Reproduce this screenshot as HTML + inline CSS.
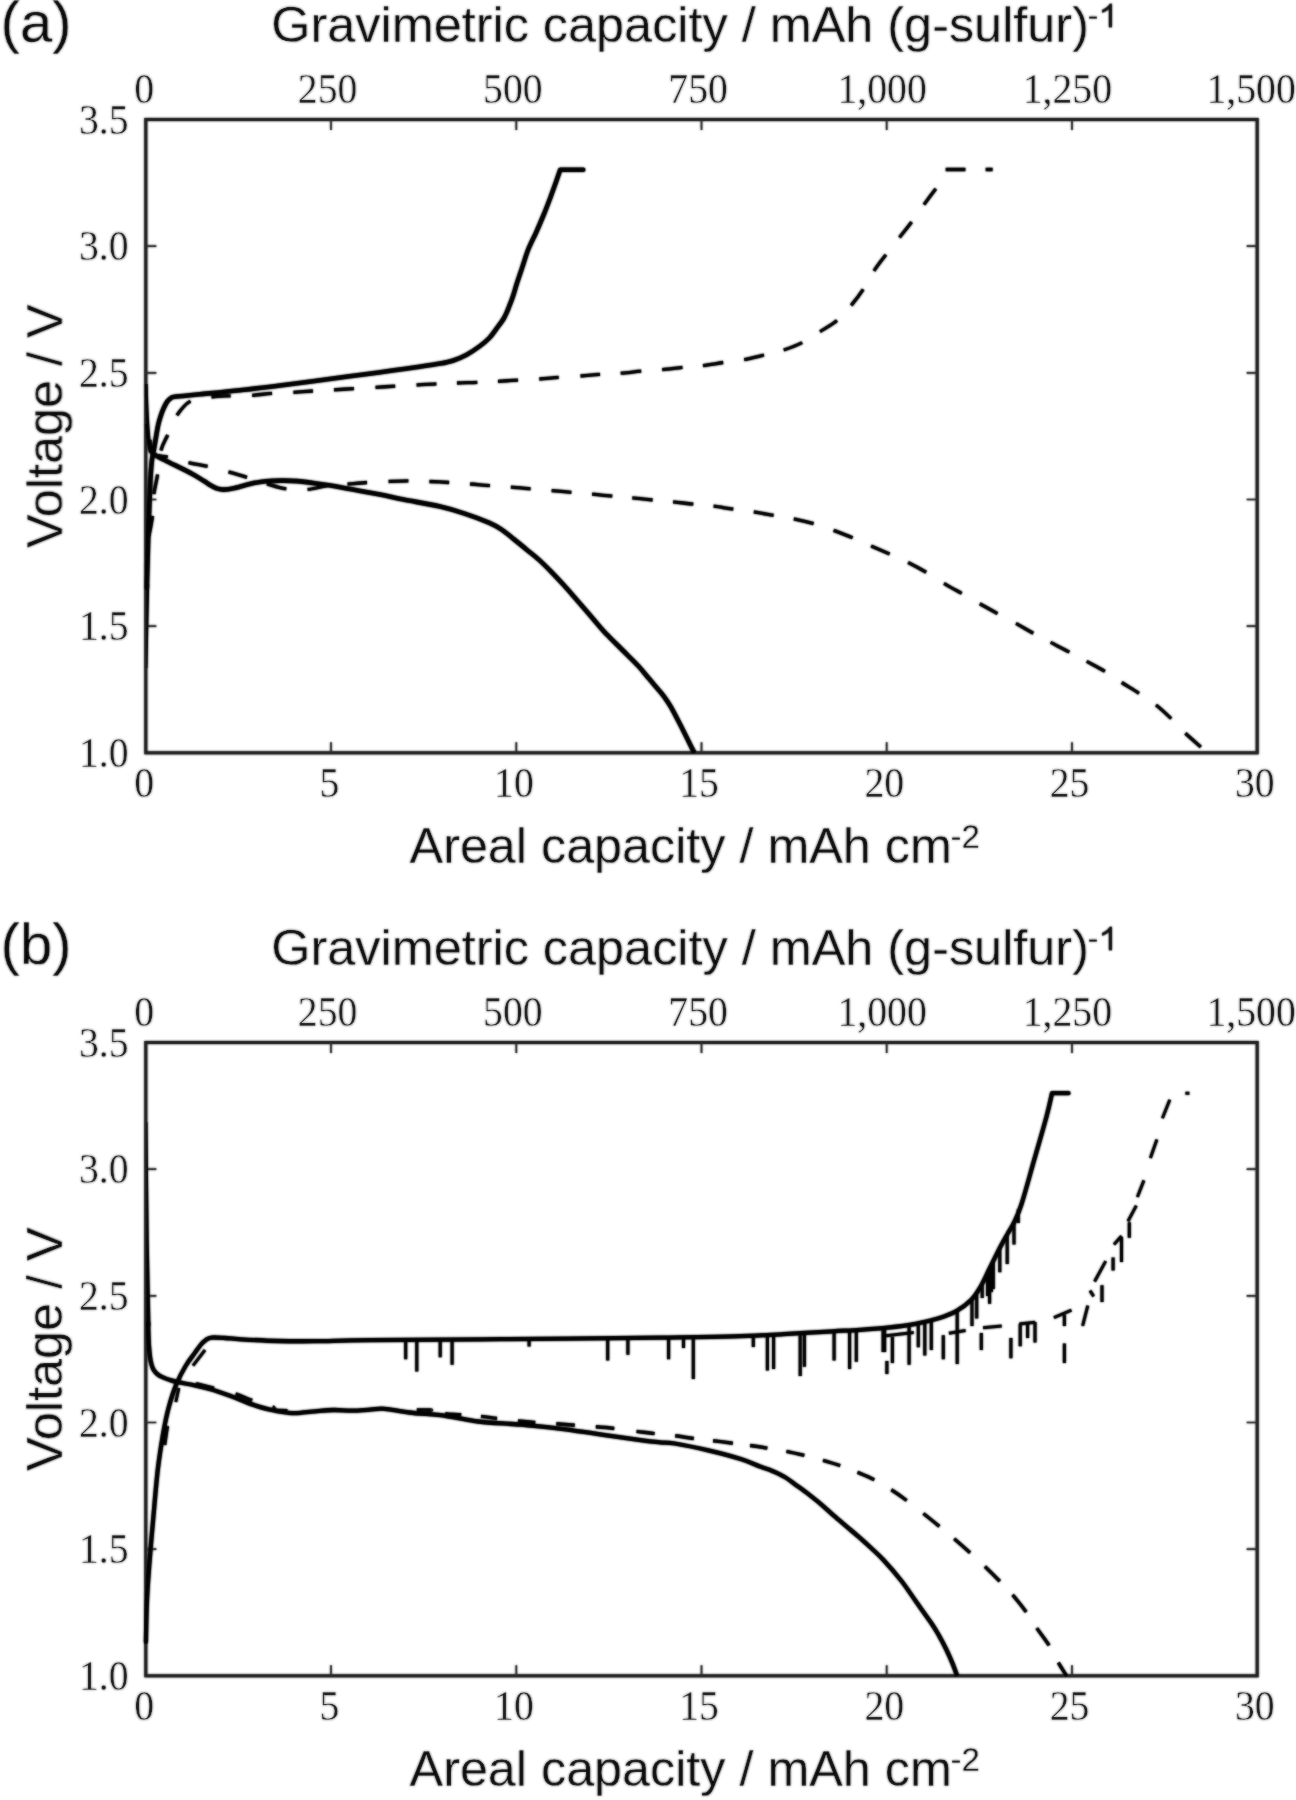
<!DOCTYPE html>
<html><head><meta charset="utf-8"><title>Voltage vs capacity</title>
<style>html,body{margin:0;padding:0;background:#fff}svg{display:block}</style>
</head><body>
<svg width="1296" height="1800" viewBox="0 0 1296 1800">
<rect width="1296" height="1800" fill="#fff"/>
<defs><filter id="b" x="0" y="0" width="1296" height="1800" filterUnits="userSpaceOnUse"><feGaussianBlur stdDeviation="0.85"/></filter>
<g id="art">
<rect x="145.8" y="119.5" width="1111.4" height="633.3" fill="none" stroke="#1e1e1e" stroke-width="3.05"/>
<path d="M331 119.5v10.5M331 752.8v-10.5M516.3 119.5v10.5M516.3 752.8v-10.5M701.5 119.5v10.5M701.5 752.8v-10.5M886.7 119.5v10.5M886.7 752.8v-10.5M1072 119.5v10.5M1072 752.8v-10.5M145.8 246.2h10.5M1257.2 246.2h-10.5M145.8 372.8h10.5M1257.2 372.8h-10.5M145.8 499.5h10.5M1257.2 499.5h-10.5M145.8 626.1h10.5M1257.2 626.1h-10.5" fill="none" stroke="#2a2a2a" stroke-width="1.7"/>
<g font-family='"Liberation Serif", serif' font-size="42.5" fill="#0a0a0a" stroke="#fff" stroke-width="0.4" text-anchor="middle"><text transform="translate(144.2 103.3) scale(0.935 1)">0</text><text transform="translate(144.2 797.4) scale(0.935 1)">0</text><text transform="translate(327.6 103.3) scale(0.935 1)">250</text><text transform="translate(329.4 797.4) scale(0.935 1)">5</text><text transform="translate(512.9 103.3) scale(0.935 1)">500</text><text transform="translate(513.9 797.4) scale(0.935 1)">10</text><text transform="translate(698.1 103.3) scale(0.935 1)">750</text><text transform="translate(699.1 797.4) scale(0.935 1)">15</text><text transform="translate(882.1 103.3) scale(0.935 1)">1,000</text><text transform="translate(884.3 797.4) scale(0.935 1)">20</text><text transform="translate(1067.4 103.3) scale(0.935 1)">1,250</text><text transform="translate(1069.6 797.4) scale(0.935 1)">25</text><text transform="translate(1251.1 103.3) scale(0.935 1)">1,500</text><text transform="translate(1254.8 797.4) scale(0.935 1)">30</text></g>
<g font-family='"Liberation Serif", serif' font-size="42.5" fill="#0a0a0a" stroke="#fff" stroke-width="0.4" text-anchor="end"><text transform="translate(128.6 133.6) scale(0.935 1)">3.5</text><text transform="translate(128.6 260.3) scale(0.935 1)">3.0</text><text transform="translate(128.6 386.9) scale(0.935 1)">2.5</text><text transform="translate(128.6 513.6) scale(0.935 1)">2.0</text><text transform="translate(128.6 640.2) scale(0.935 1)">1.5</text><text transform="translate(128.6 766.9) scale(0.935 1)">1.0</text></g>
<text x="271.3" y="42" font-size="50.4" font-family='"Liberation Sans", sans-serif' fill="#050505" stroke="#fff" stroke-width="0.3">Gravimetric capacity / mAh (g-sulfur)</text>
<text x="1087.5" y="27.2" font-size="33" font-family='"Liberation Sans", sans-serif' fill="#050505" stroke="#fff" stroke-width="0.3">-</text>
<path transform="translate(0 0)" d="M1111.9 27.2H1108.9V9C1107.5 10.3 1105 11.8 1102.1 12.8V10C1105.5 8.6 1108.5 6.2 1109.9 3.7H1111.9Z" fill="#111"/>
<text x="409.6" y="862.8" font-size="50.3" font-family='"Liberation Sans", sans-serif' fill="#050505" stroke="#fff" stroke-width="0.3">Areal capacity / mAh cm</text>
<text x="950.6" y="848" font-size="33" font-family='"Liberation Sans", sans-serif' fill="#050505" stroke="#fff" stroke-width="0.3">-2</text>
<text transform="translate(62.2 548) rotate(-90)" font-size="50.4" font-family='"Liberation Sans", sans-serif' fill="#050505" stroke="#fff" stroke-width="0.3">Voltage / V</text>
<rect x="145.8" y="1042.5" width="1111.4" height="633.3" fill="none" stroke="#1e1e1e" stroke-width="3.05"/>
<path d="M331 1042.5v10.5M331 1675.8v-10.5M516.3 1042.5v10.5M516.3 1675.8v-10.5M701.5 1042.5v10.5M701.5 1675.8v-10.5M886.7 1042.5v10.5M886.7 1675.8v-10.5M1072 1042.5v10.5M1072 1675.8v-10.5M145.8 1169.2h10.5M1257.2 1169.2h-10.5M145.8 1295.8h10.5M1257.2 1295.8h-10.5M145.8 1422.5h10.5M1257.2 1422.5h-10.5M145.8 1549.1h10.5M1257.2 1549.1h-10.5" fill="none" stroke="#2a2a2a" stroke-width="1.7"/>
<g font-family='"Liberation Serif", serif' font-size="42.5" fill="#0a0a0a" stroke="#fff" stroke-width="0.4" text-anchor="middle"><text transform="translate(144.2 1026.3) scale(0.935 1)">0</text><text transform="translate(144.2 1720.4) scale(0.935 1)">0</text><text transform="translate(327.6 1026.3) scale(0.935 1)">250</text><text transform="translate(329.4 1720.4) scale(0.935 1)">5</text><text transform="translate(512.9 1026.3) scale(0.935 1)">500</text><text transform="translate(513.9 1720.4) scale(0.935 1)">10</text><text transform="translate(698.1 1026.3) scale(0.935 1)">750</text><text transform="translate(699.1 1720.4) scale(0.935 1)">15</text><text transform="translate(882.1 1026.3) scale(0.935 1)">1,000</text><text transform="translate(884.3 1720.4) scale(0.935 1)">20</text><text transform="translate(1067.4 1026.3) scale(0.935 1)">1,250</text><text transform="translate(1069.6 1720.4) scale(0.935 1)">25</text><text transform="translate(1251.1 1026.3) scale(0.935 1)">1,500</text><text transform="translate(1254.8 1720.4) scale(0.935 1)">30</text></g>
<g font-family='"Liberation Serif", serif' font-size="42.5" fill="#0a0a0a" stroke="#fff" stroke-width="0.4" text-anchor="end"><text transform="translate(128.6 1056.6) scale(0.935 1)">3.5</text><text transform="translate(128.6 1183.3) scale(0.935 1)">3.0</text><text transform="translate(128.6 1309.9) scale(0.935 1)">2.5</text><text transform="translate(128.6 1436.6) scale(0.935 1)">2.0</text><text transform="translate(128.6 1563.2) scale(0.935 1)">1.5</text><text transform="translate(128.6 1689.9) scale(0.935 1)">1.0</text></g>
<text x="271.3" y="965" font-size="50.4" font-family='"Liberation Sans", sans-serif' fill="#050505" stroke="#fff" stroke-width="0.3">Gravimetric capacity / mAh (g-sulfur)</text>
<text x="1087.5" y="950.2" font-size="33" font-family='"Liberation Sans", sans-serif' fill="#050505" stroke="#fff" stroke-width="0.3">-</text>
<path transform="translate(0 923)" d="M1111.9 27.2H1108.9V9C1107.5 10.3 1105 11.8 1102.1 12.8V10C1105.5 8.6 1108.5 6.2 1109.9 3.7H1111.9Z" fill="#111"/>
<text x="409.6" y="1785.8" font-size="50.3" font-family='"Liberation Sans", sans-serif' fill="#050505" stroke="#fff" stroke-width="0.3">Areal capacity / mAh cm</text>
<text x="950.6" y="1771" font-size="33" font-family='"Liberation Sans", sans-serif' fill="#050505" stroke="#fff" stroke-width="0.3">-2</text>
<text transform="translate(62.2 1471) rotate(-90)" font-size="50.4" font-family='"Liberation Sans", sans-serif' fill="#050505" stroke="#fff" stroke-width="0.3">Voltage / V</text>
<text x="0.6" y="41.6" font-family='"Liberation Sans", sans-serif' font-size="58" fill="#050505" stroke="#fff" stroke-width="0.3">(a)</text>
<text x="0.6" y="964.4" font-family='"Liberation Sans", sans-serif' font-size="58" fill="#050505" stroke="#fff" stroke-width="0.3">(b)</text>
<g fill="none" stroke="#000" stroke-linejoin="round">
<path d="M146.9 588C146.9 586.3 146.9 585.2 147.1 578C147.3 570.8 147.7 556.3 148 545C148.3 533.7 148.8 520.8 149.2 510C149.6 499.2 150 487.8 150.4 480C150.8 472.2 151.2 467.2 151.6 463C152 458.8 152.4 456.8 152.8 454.5C153.2 452.2 153.5 451.9 154 449C154.5 446.1 155.3 441.2 156 437C156.7 432.8 157.6 427.5 158.4 424C159.2 420.5 159.9 418.5 160.7 416C161.5 413.5 162.2 411.4 163.3 409C164.4 406.6 165.8 403.7 167 401.9C168.2 400.1 169.4 399.1 170.7 398.3C172 397.5 169.7 397.5 174.6 396.8C179.5 396.1 189.1 395.4 200 394.3C210.9 393.2 226.7 391.7 240 390.2C253.3 388.7 265.1 387.4 280 385.5C294.9 383.6 312.9 381.2 329.4 379C345.9 376.8 364.4 374.4 378.8 372.5C393.2 370.6 405.6 368.8 415.8 367.3C426 365.8 433.8 364.7 440 363.6C446.2 362.5 448.9 362 453.3 360.5C457.8 359 462.2 357.1 466.7 354.7C471.1 352.3 476.2 348.8 480 346C483.8 343.2 486.6 340.8 489.3 338C492 335.2 493.6 332.6 496 329.3C498.4 326 501.8 321.9 504 318C506.2 314.1 507.8 309.8 509.3 306C510.9 302.2 512 299.3 513.3 295.3C514.6 291.3 515.7 286.9 517.3 282C518.9 277.1 520.9 271.3 522.7 266C524.5 260.7 525.8 255.6 528 250C530.2 244.4 533.3 238.7 536 232.7C538.7 226.7 541.5 220 544 214C546.5 208 548.7 202 550.7 196.7C552.7 191.4 554.4 186.5 556 182C557.6 177.5 559.5 171.8 560.2 169.8L583.2 169.8" stroke-width="4.6" stroke-linecap="round"/>
<path d="M149.4 440C149.5 441 149.6 444.1 149.9 446C150.2 447.9 150.2 450 151.1 451.5C151.9 453 152.2 453.3 155 455C157.8 456.7 161.7 458.6 167.8 461.7C174 464.8 185.9 470.5 191.9 473.7C197.9 476.9 200.9 479.1 204 481C207.1 482.9 208.3 484 210.4 485.2C212.5 486.4 214.2 487.6 216.4 488.3C218.6 489 220.7 489.7 223.8 489.6C226.9 489.5 230 489 234.9 487.9C239.8 486.8 248.3 484.2 253.5 483.1C258.6 482 261.4 481.6 265.8 481.2C270.2 480.8 274.7 480.6 280 480.6C285.3 480.6 289.9 480.4 297.4 481.1C304.9 481.8 315.9 483.4 325.2 484.8C334.5 486.2 343.9 488 353 489.6C362.1 491.2 371.6 492.9 380 494.5C388.4 496.1 393.5 497.5 403.5 499.5C413.5 501.5 429.8 504.2 440 506.6C450.2 509 456.5 510.9 464.7 513.6C472.9 516.3 483.2 520.2 489.4 522.9C495.6 525.6 497.6 526.9 501.7 529.6C505.8 532.4 510 536.1 514.1 539.4C518.2 542.7 522.3 546 526.4 549.4C530.5 552.8 534.7 555.9 538.8 559.6C542.9 563.3 547 567.4 551.1 571.6C555.2 575.8 559.4 580.3 563.5 584.8C567.6 589.3 571.7 594.1 575.8 598.8C579.9 603.5 584.1 608.3 588.1 613C592.1 617.7 597 623.5 600 627C603 630.5 602.5 630 606.2 633.8C609.9 637.6 617 644.6 622.4 650C627.8 655.4 634.1 661.4 638.6 666.2C643.1 671.1 646.3 675.5 649.4 679.1C652.5 682.7 654.6 685.2 657 688C659.4 690.8 661.2 692.6 663.5 695.8C665.8 699 668 701.9 671 707.2C674 712.5 678.2 720.7 681.8 727.7C685.4 734.7 690.5 745.2 692.6 749.4C694.7 753.6 694.1 752.4 694.4 753" stroke-width="4.6"/>
<path d="M146.3 384C146.4 387.5 146.6 397.7 146.9 405C147.2 412.3 147.6 421 148.1 428C148.6 435 149.5 443.8 149.8 447" stroke-width="2.8"/>
<path d="M146.6 668L147.4 668L148.3 625L149.2 584L146.6 584Z" fill="#000" stroke="none"/>
<path d="M149 536C149.6 532.7 151.7 523 152.5 516M153.9 494.1C154.8 487.2 156.4 481.9 157.6 474.6M160.9 450.5C162.6 443.9 165 440.9 167.7 435M176.9 415.3C180.7 409.7 184.7 404.2 190.5 401.1M211.5 397C218.2 396.1 223.8 396.1 230.6 395.8M252.2 395.3C259.1 394.9 265.1 393.8 272 393.3M293.4 392.3C300.2 391.9 306.1 391.4 312.9 391M334 389.8C340.8 389.4 347 389 353.9 388.6M375.5 387.3C382.4 386.9 388.3 386.6 395.2 386.2M416.6 385C423.5 384.6 429.7 384.2 436.4 383.9M457 383C463.8 382.7 470.5 382.6 477.3 382.3M498 381.3C504.8 380.9 511.1 380.5 518 380.1M539.3 379C546.1 378.6 551.8 377.9 558.7 377.4M580.5 376C587.4 375.5 593.3 374.9 600 374.4M620.7 373.2C627.6 372.7 634.3 371.8 641.2 371.2M662.2 369.6C669.1 369 675.7 368 682.5 367.3M703 365.6C709.8 364.8 716.3 363.5 723.2 362.5M744.2 359.6C751 358.4 757.4 356.6 764 355M783.7 350C790.1 347.9 796.2 345.7 802.2 342.6M820 331.6C825.8 327.9 831.8 324.9 837 320.5M851.2 305.4C855.6 300.2 859.4 295.2 863.2 289.4M874 270.8C877.8 265 881.6 260.3 885.9 254.7M899.5 237.4C903.8 231.9 907.5 227.4 911.6 221.9M924 204.6C928 199.1 933.8 191.4 935.8 188.8M945.7 169.5H965.4M985.7 169.5H992.6" stroke-width="3.3"/>
<path d="M146.6 424C147.2 427.7 148 440.8 150 446M158.5 455.2C161.5 457 162.8 455.8 167.8 457M188.5 462.6C195.1 464.2 200.9 464.8 207.6 466.3M228.5 471.9C235.1 473.8 240.6 475.4 247 477.4M266.9 483.9C273.4 485.8 279.5 488 286.3 488.9M307.6 489.4C314.4 488.9 320.4 486.8 327 485.9M347.5 484.2C354.2 483.6 360.1 482.9 367 482.5M388.6 481.5C395.5 481.2 401.6 480.9 408.4 480.9M429.4 481.5C436.2 481.8 442.3 482.1 449.1 482.5M470.1 484C476.9 484.5 483.1 485.2 489.9 485.7M510.9 487.2C517.7 487.7 523.8 488.3 530.6 488.9M551.6 490.6C558.4 491.2 564.6 491.7 571.4 492.3M592.1 494.1C598.9 494.8 605.6 495.6 612.3 496.2M632.3 497.8C639 498.4 645.8 499.3 652.6 500M673.1 501.8C679.9 502.5 686.5 503.5 693.3 504.2M713.6 506.2C720.3 507 726.6 508.3 733.3 509.2M753.8 511.8C760.5 512.8 766.9 514.2 773.6 515.4M793.8 518.8C800.5 520.2 807 521.8 813.6 523.7M833.6 530.4C840.1 532.8 846.4 535.2 852.6 537.8M871.1 546C877.3 548.7 883.4 551.4 889.6 554.1M908.1 562.5C914.2 565.5 920.2 568.8 926.2 572.3M944 583.3C949.9 586.8 955.7 590 961.7 593.4M979.8 603.8C985.8 607.2 991.5 610.3 997.5 613.6M1016 623.4C1022 626.7 1027.5 630.1 1033.3 633.3M1050.6 642.4C1056.6 645.5 1063.4 648.9 1069.4 652.1M1086.7 661.4C1092.6 664.6 1099.1 667.8 1104.9 671.3M1121.7 682.5C1127.4 686.2 1133.3 689.5 1139 693.3M1156 705C1161.4 709.2 1166.3 713.9 1171.2 718.6M1185.4 733.3C1190.3 738 1198.2 744.6 1200.8 746.9" stroke-width="3.3"/>
</g>
<g fill="none" stroke="#000" stroke-linejoin="round">
<path d="M148.2 1322C148.2 1323.7 148.3 1328.2 148.4 1332C148.5 1335.8 148.7 1341 148.9 1345C149.2 1349 149.5 1352.8 149.9 1356C150.3 1359.2 150.8 1362.1 151.5 1364.5C152.2 1366.9 152.8 1368.6 153.8 1370.2C154.8 1371.8 156 1373 157.5 1374.2C159 1375.4 160.9 1376.4 163 1377.4C165.1 1378.4 167.5 1379.2 170 1380C172.5 1380.8 174 1381.3 178.1 1382.2C182.2 1383.1 188.9 1384.1 194.8 1385.4C200.7 1386.7 207.1 1388.2 213.3 1390C219.5 1391.8 225.7 1394.2 231.9 1396.5C238.1 1398.8 244.2 1401.8 250.4 1403.9C256.6 1406.1 262.7 1408 268.9 1409.4C275.1 1410.9 282.8 1412 287.4 1412.6C292 1413.2 292.1 1413.3 296.7 1413.1C301.3 1412.9 309 1411.8 315.2 1411.3C321.4 1410.8 327.5 1410.1 333.7 1410C339.9 1409.9 346.1 1410.8 352.2 1410.7C358.2 1410.6 364.6 1409.9 370 1409.6C375.4 1409.3 378.1 1408.3 384.7 1408.8C391.3 1409.3 399.1 1411.3 409.4 1412.5C419.7 1413.7 434.9 1414.5 446.4 1416C457.9 1417.5 466.1 1420 478.5 1421.5C490.9 1423 507.3 1423.5 520.5 1424.7C533.7 1425.9 543.1 1426.6 557.5 1428.4C571.9 1430.2 592.5 1433.2 606.9 1435.3C621.3 1437.3 635.1 1439.5 644 1440.7C652.9 1441.9 654.9 1441.8 660 1442.3C665.1 1442.8 666.6 1442.1 674.8 1443.5C683 1444.9 698.3 1448 709.4 1450.6C720.5 1453.2 733.1 1456.6 741.5 1459.3C749.9 1462 754.9 1464.6 760 1466.5C765.1 1468.4 768.2 1469.2 772.3 1470.9C776.4 1472.7 780.6 1474.5 784.7 1477C788.8 1479.5 792.9 1482.7 797 1485.7C801.1 1488.7 805.3 1491.7 809.4 1494.9C813.5 1498.1 817.6 1501.3 821.7 1504.8C825.8 1508.3 830 1512.3 834.1 1515.9C838.2 1519.5 842.3 1522.9 846.4 1526.4C850.5 1529.9 854.7 1533.3 858.8 1536.9C862.9 1540.5 867 1544.2 871.1 1548C875.2 1551.8 878.4 1554.5 883.5 1560C888.6 1565.5 896.1 1574.1 901.5 1581C906.9 1587.9 911.1 1594.6 916 1601.5C920.9 1608.4 927.1 1617 930.9 1622.5C934.7 1628 936 1630.3 938.6 1634.8C941.2 1639.3 944 1644.7 946.3 1649.5C948.6 1654.3 950.7 1659 952.5 1663.4C954.3 1667.8 956.4 1673.9 957.2 1676" stroke-width="4.3"/>
<path d="M146.6 1122L147.4 1122L148.7 1240L149.9 1300L150.5 1326L146.6 1326Z" fill="#000" stroke="none"/>
<path d="M145.9 1642C146 1636.7 146.3 1619.5 146.6 1610C146.9 1600.5 147.1 1595.4 147.8 1585C148.5 1574.6 149.8 1558.2 150.7 1547.4C151.6 1536.6 151.9 1533 153.1 1520C154.3 1507 156.1 1484.2 157.8 1469.6C159.5 1455 161.5 1443.1 163.3 1432.6C165.2 1422.1 166.7 1414.7 168.9 1406.7C171.1 1398.7 173.5 1391.2 176.3 1384.4C179.1 1377.6 182.5 1371.2 185.6 1366C188.7 1360.8 192.2 1356.6 194.8 1353C197.4 1349.4 199.2 1346.7 201 1344.5C202.8 1342.3 204.2 1341.2 205.9 1340C207.7 1338.8 208.3 1337.9 211.5 1337.6C214.7 1337.3 220.1 1337.7 225 1338C229.9 1338.3 232.2 1338.8 241.1 1339.3C249.9 1339.8 265.8 1340.7 278.1 1341C290.5 1341.3 299.9 1341.3 315.2 1341.2C330.5 1341.1 339.2 1340.5 370 1340.2C400.8 1339.9 451.7 1339.6 500 1339.2C548.3 1338.8 621 1338.1 660 1337.6C699 1337.1 713.4 1337 734 1336.4C754.6 1335.8 767 1335.1 783.5 1334.2C800 1333.3 820 1332 832.8 1331.3C845.5 1330.6 850.8 1330.4 860 1329.8C869.2 1329.2 878.5 1328.6 887.8 1327.6C897.1 1326.6 907.3 1325.3 915.6 1323.8C923.9 1322.3 931 1320.6 937.8 1318.5C944.6 1316.4 950.8 1314.2 956.3 1311.1C961.8 1308 967.1 1304 971.1 1300C975.1 1296 977.3 1292.2 980.4 1287C983.5 1281.8 986.2 1275.3 989.6 1268.5C993 1261.7 997.7 1252 1000.7 1246.3C1003.7 1240.5 1005.2 1238 1007.5 1234C1009.8 1230 1011.9 1227.1 1014.3 1222C1016.7 1216.9 1018.4 1213.8 1021.7 1203.5C1025 1193.2 1030 1174.6 1034.1 1160.2C1038.2 1145.8 1043.4 1128.2 1046.4 1117C1049.4 1105.8 1051.1 1097.2 1052 1093.2L1068.5 1093.2" stroke-width="4.3" stroke-linecap="round"/>
<path d="M196 1383.7C199 1384.5 207.4 1386.5 214 1388.2M235.6 1393.9C242 1395.9 246 1398.2 252.2 1400.4M272.6 1406.9C278.5 1408.6 263.4 1410.1 287.4 1410.6M416.8 1409.9C440.8 1409.9 426.9 1410.2 431.6 1410.8M445.2 1413.8C450.1 1414.5 455.2 1414.4 461.2 1414.8M481 1416.4C487 1417 490.8 1417.7 497 1418.5M518 1421C524.4 1421.7 528.9 1422 535.3 1422.5M556.3 1423.7C562.9 1424.2 568.2 1424.7 574.8 1425.2M595.8 1426.8C602.4 1427.3 607.5 1427.7 614.3 1428.5M636.5 1431.4C643.2 1432.2 648.1 1432.9 654.6 1433.6M675.2 1435.8C681.7 1436.6 687.5 1437.7 693.8 1438.5M713.1 1440.7C719.6 1441.5 726.6 1442.4 732.8 1443.2M750.1 1445.5C755.9 1446.3 761.4 1447.1 767.4 1448.1M786.4 1451.3C792.6 1452.5 798.3 1453.9 804.4 1455.4M823 1460.3C829 1462 834.5 1463.6 840.2 1465.6M857.5 1472.3C863.2 1474.7 868.7 1476.9 874.3 1479.8M891.3 1489.8C896.7 1493.2 901.4 1496.5 906.7 1500.5M923.4 1513.5C928.8 1517.8 934.3 1522.2 939.4 1526.4M954.2 1538.8C959.3 1543.2 965 1548.2 970.1 1552.8M984.9 1566.4C989.8 1571.1 995.2 1576.5 999.8 1581.2M1012.6 1594.8C1017 1599.9 1022.2 1606.5 1026.2 1612.1M1036.8 1628.1C1040.6 1633.6 1045.5 1639.6 1049.1 1645.4M1058.3 1662.7C1061.3 1667.8 1065.5 1674 1066.9 1676.3" stroke-width="3.4"/>
<path d="M164.8 1445L167.6 1426M175.8 1402L178.8 1388M193 1365.7L205 1350M886 1335.8L913.7 1332.6M948.9 1333.3L965.6 1330.6M983.1 1327.8L1001.7 1325.9M1019.3 1324.1L1035 1322.2M1053.9 1317.6L1071.5 1310.2M1082.6 1325.9L1087.8 1305.6M1090 1290.7L1093.7 1296.3M1094.6 1281.5L1105.7 1261.1M1114 1244.4L1121.5 1236M1128 1221.3L1136.3 1205.6M1137.4 1197L1143.9 1180.4M1150.4 1158.1L1156.9 1139.6M1162.4 1118.3L1169.8 1099.8M1185.4 1093.3L1189.4 1093.3" stroke-width="3"/>
<path d="M405.7 1340.5V1359.3M416.8 1340.5V1371.6M440.2 1340.5V1357.3M452.1 1340.5V1364.7M529.1 1340V1346.4M607.7 1339V1360.5M627.9 1339V1354.8M668.6 1338.3V1359.3M683.5 1338V1348.1M693.3 1338V1379M753.3 1336.5V1346.9M767.4 1336V1370.4M773.6 1335.5V1369.1M800.2 1334V1376M804.4 1334V1366.7M834.1 1331.5V1360.5M849.6 1331V1369.1M856.3 1330.5V1361.7M883.1 1328V1351.9M884.6 1328V1351.9M886.9 1361V1374M892.4 1337V1363M909.1 1325V1364.8M918.3 1323.5V1347.2M924.8 1322V1355.6M931.3 1320.5V1350M943.3 1335.2V1359.3M957.2 1311V1363.9M972 1300V1326M976.7 1293V1318.5M982.2 1283V1298M987.6 1276V1296M989.6 1269V1303.7M991.4 1268V1292M993.3 1262V1288.9M999.8 1248V1272.2M1007.2 1235V1263.9M1014 1223V1244.4M1018.3 1209V1223M981.3 1333V1350M1010.9 1338V1358.3M1020.2 1324V1346.3M1027.6 1324V1338M1035 1322V1342.6M1064.4 1314.8V1326M1064.4 1343.5V1363M1102 1285.2V1301.9M1113.1 1257.4V1270.4M1121.5 1237V1262M1129.3 1222.2V1237.8" stroke-width="3.1"/>
</g>
</g></defs>
<use href="#art" filter="url(#b)"/>
<use href="#art" opacity="0.7"/>
</svg>
</body></html>
